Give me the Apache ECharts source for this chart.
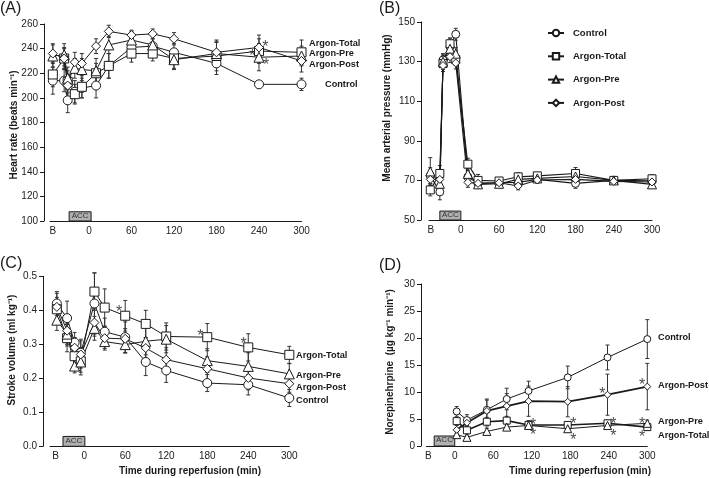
<!DOCTYPE html>
<html><head><meta charset="utf-8">
<script src="https://cdn.jsdelivr.net/npm/echarts@6/dist/echarts.min.js"></script>
<style>html,body{margin:0;padding:0;background:#fff}#c{width:709px;height:478px}</style>
</head><body><div id="c"></div>
<script>
// ---------- Panel A: Heart rate ----------
const timesA = [-51, -35, -30, -20, -10, 10, 28, 60, 90, 120, 180, 240, 300];
const hrControl = [214, 214, 198, 205, 208, 210, 226, 241, 242, 237, 228, 211, 211];
const hrTotal   = [219, 232, 213, 203, 209, 220, 226, 236, 236, 232, 234, 238, 237];
const hrPre     = [234, 235, 216, 224, 223, 222, 243, 247, 243, 231, 236, 233, 234];
const hrPost    = [236, 232, 210, 229, 228, 242, 254, 251, 252, 248, 237, 241, 230];
const hrControlErr = [11, 9, 10, 9, 8, 10, 10, 7, 6, 7, 9, 3, 5];
const hrTotalErr   = [10, 9, 9, 8, 9, 8, 10, 7, 6, 8, 12, 10, 10];
const hrPreErr     = [9, 9, 9, 8, 9, 10, 7, 7, 7, 8, 11, 11, 8];
const hrPostErr    = [8, 8, 9, 8, 8, 6, 5, 4, 4, 5, 8, 10, 9];
const hrStars = [[249, 244.8], [230.5, 237.5], [250, 230.2]];

// ---------- Panel B: Mean arterial pressure ----------
const timesB = [-48, -33, -28, -17, -8, 11, 27, 60, 90, 120, 180, 240, 300];
const mapControl = [72.4, 64.2, 130.8, 137.5, 143.8, 71.7, 68.5, 68.8, 69.0, 70.5, 68.5, 70.0, 69.8];
const mapTotal   = [65.2, 73.5, 129.0, 139.0, 131.0, 78.2, 70.0, 69.7, 71.8, 72.3, 73.5, 70.0, 70.8];
const mapPre     = [74.5, 68.3, 130.0, 136.5, 134.0, 73.3, 68.0, 68.3, 70.5, 71.0, 72.0, 70.0, 68.0];
const mapPost    = [70.5, 70.5, 128.0, 132.5, 129.3, 69.0, 68.5, 68.8, 67.2, 70.2, 70.5, 69.5, 69.2];
const mapControlErr = [4, 4, 3, 4, 3, 3, 2, 1.5, 2, 1.5, 2.5, 1.5, 1.5];
const mapTotalErr   = [3, 4, 4, 3, 3, 3, 3, 1.5, 2, 1.5, 3, 2, 2];
const mapPreErr     = [7, 5, 4, 4, 3, 3, 2, 1.5, 2, 1.5, 2.5, 1.5, 1.5];
const mapPostErr    = [3, 3, 3, 3, 3, 2.5, 2, 1.5, 2, 1.5, 2.5, 1.5, 1.5];

// ---------- Panel C: Stroke volume ----------
const timesC = [-40, -25, -14, -5, 15, 30, 60, 90, 120, 180, 240, 300];
const svControl = [0.420, 0.377, 0.305, 0.275, 0.420, 0.337, 0.321, 0.248, 0.223, 0.186, 0.181, 0.142];
const svTotal   = [0.403, 0.318, 0.265, 0.250, 0.455, 0.408, 0.384, 0.360, 0.323, 0.321, 0.291, 0.269];
const svPre     = [0.371, 0.330, 0.236, 0.248, 0.347, 0.308, 0.299, 0.309, 0.315, 0.252, 0.235, 0.213];
const svPost    = [0.410, 0.340, 0.290, 0.270, 0.364, 0.318, 0.316, 0.289, 0.255, 0.228, 0.201, 0.184];
const svControlErr = [0.035, 0.05, 0.03, 0.04, 0.09, 0.04, 0.045, 0.04, 0.035, 0.025, 0.03, 0.025];
const svTotalErr   = [0.035, 0.04, 0.035, 0.04, 0.055, 0.055, 0.045, 0.04, 0.04, 0.04, 0.04, 0.025];
const svPreErr     = [0.03, 0.03, 0.02, 0.03, 0.035, 0.02, 0.025, 0.04, 0.04, 0.035, 0.04, 0.03];
const svPostErr    = [0.04, 0.045, 0.03, 0.04, 0.04, 0.035, 0.03, 0.03, 0.035, 0.035, 0.035, 0.025];
const svStars = [[51, 0.407], [170, 0.338], [233, 0.314], [301, 0.314]];

// ---------- Panel D: Norepinephrine ----------
const timesD = [3, 19, 50, 81, 115, 176, 238, 300];
const neControl = [6.4, 4.8, 6.7, 8.7, 10.2, 12.7, 16.4, 19.8];
const neTotal   = [4.6, 2.9, 4.5, 4.7, 3.9, 3.9, 4.2, 3.5];
const nePre     = [2.1, 1.6, 2.7, 3.5, 3.8, 3.2, 3.8, 4.2];
const nePost    = [3.0, 4.3, 6.5, 7.4, 8.3, 8.2, 9.5, 11.0];
const neControlErr = [0.9, 1.0, 2.0, 2.0, 1.8, 2.1, 2.3, 3.6];
const neTotalErr   = [0.6, 0.6, 0.8, 0.8, 0.8, 0.6, 0.6, 0.6];
const nePreErr     = [0.5, 0.4, 0.6, 0.6, 0.6, 0.6, 0.6, 0.6];
const nePostErr    = [0.8, 0.8, 2.0, 2.3, 2.8, 2.8, 3.8, 4.3];
const neStars = [[230, 10.4], [292, 12.1], [122, 4.7], [122, 2.8], [185, 4.9], [185, 2.0],
                 [247, 4.9], [247, 2.7], [292, 4.9], [292, 2.4]];

// ---------- Axis / labels ----------
const xTickLabels = ['B', '0', '60', '120', '180', '240', '300'];
const seriesNames = ['Control', 'Argon-Total', 'Argon-Pre', 'Argon-Post'];
const symbols = ['circle', 'rect', 'triangle', 'diamond'];

const FONT = '"Liberation Sans", Arial, Helvetica, sans-serif';
const INK = '#1a1a1a';

const panels = [
  { times: timesA, vals: [hrControl, hrTotal, hrPre, hrPost], errs: [hrControlErr, hrTotalErr, hrPreErr, hrPostErr],
    stars: hrStars, grid: {left: 50, right: 407.5, top: 24, bottom: 257}, xmin: -55, bpos: -51,
    ymin: 100, ymax: 260, yint: 20, yoff: 6, dec: 0, sym: 9, acc: [-28, 3, 100, 107.5], lw: [1, 1, 1, 1] },
  { times: timesB, vals: [mapControl, mapTotal, mapPre, mapPost], errs: [mapControlErr, mapTotalErr, mapPreErr, mapPostErr],
    stars: [], grid: {left: 429, right: 57, top: 22, bottom: 258}, xmin: -50, bpos: -47,
    ymin: 50, ymax: 150, yint: 20, yoff: 8, dec: 0, sym: 8, acc: [-33, 0, 50, 54.5], lw: [1.1, 1.1, 1.1, 1.1] },
  { times: timesC, vals: [svControl, svTotal, svPre, svPost], errs: [svControlErr, svTotalErr, svPreErr, svPostErr],
    stars: svStars, grid: {left: 50, right: 419.7, top: 276.3, bottom: 31.7}, xmin: -50, bpos: -42,
    ymin: 0, ymax: 0.5, yint: 0.1, yoff: 7, dec: 1, sym: 9, acc: [-31, 1, 0, 0.029], lw: [1, 1, 1, 1] },
  { times: timesD, vals: [neControl, neTotal, nePre, nePost], errs: [neControlErr, neTotalErr, nePreErr, nePostErr],
    stars: neStars, grid: {left: 426.5, right: 61.7, top: 284, bottom: 32}, xmin: -44, bpos: -41,
    ymin: 0, ymax: 30, yint: 5, yoff: 5.5, dec: 0, sym: 7, acc: [-32, 0, 0, 1.85], lw: [1, 1.6, 1, 1.8] }
];

const grid = [], xAxis = [], yAxis = [], series = [];
panels.forEach((p, k) => {
  grid.push(p.grid);
  const custom = [p.bpos, 0, 60, 120, 180, 240, 300];
  xAxis.push({
    gridIndex: k, type: 'value', min: p.xmin, max: 300,
    axisLine: {show: true, onZero: false, lineStyle: {color: INK, width: 1}},
    axisTick: {show: false},
    splitLine: {show: false},
    axisLabel: {customValues: custom, formatter: v => v < 0 ? xTickLabels[0] : xTickLabels[custom.indexOf(v)],
      fontFamily: FONT, fontSize: 10, color: '#222', margin: 5}
  });
  yAxis.push({
    gridIndex: k, type: 'value', min: p.ymin, max: p.ymax, interval: p.yint, offset: p.yoff,
    axisLine: {show: true, onZero: false, lineStyle: {color: INK, width: 1}},
    axisTick: {show: true, length: 4, lineStyle: {color: INK}},
    splitLine: {show: false},
    axisLabel: {formatter: v => v.toFixed(p.dec), fontFamily: FONT, fontSize: 10, color: '#222', margin: 6}
  });
  seriesNames.forEach((nm, s) => {
    series.push({
      type: 'custom', xAxisIndex: k, yAxisIndex: k, z: 1, silent: true,
      name: 'err' + k + s,
      data: p.times.map((t, i) => [t, p.vals[s][i], p.errs[s][i]]),
      encode: {x: 0, y: 1},
      renderItem: (params, api) => {
        const x = api.value(0), y = api.value(1), e = api.value(2);
        const a = api.coord([x, y + e]), b = api.coord([x, y - e]);
        const st = {stroke: '#333', lineWidth: 1};
        return {type: 'group', children: [
          {type: 'line', shape: {x1: a[0], y1: a[1], x2: b[0], y2: b[1]}, style: st},
          {type: 'line', shape: {x1: a[0] - 2, y1: a[1], x2: a[0] + 2, y2: a[1]}, style: st},
          {type: 'line', shape: {x1: b[0] - 2, y1: b[1], x2: b[0] + 2, y2: b[1]}, style: st}
        ]};
      }
    });
  });
  seriesNames.forEach((nm, s) => {
    const ser = {
      type: 'line', name: k === 1 ? nm : 'p' + k + ' ' + nm, xAxisIndex: k, yAxisIndex: k, z: 3,
      data: p.times.map((t, i) => [t, p.vals[s][i]]),
      symbol: symbols[s], symbolSize: s === 2 ? p.sym + 1 : p.sym, showSymbol: true,
      lineStyle: {color: INK, width: p.lw[s]},
      itemStyle: {color: '#fff', borderColor: INK, borderWidth: 1},
      emphasis: {disabled: true}, silent: true
    };
    if (s === 0) {
      ser.markArea = {
        silent: true,
        itemStyle: {color: '#b0b0b0', borderColor: INK, borderWidth: 1},
        label: {show: true, position: 'inside', fontFamily: FONT, fontSize: 8, color: '#333', offset: [0, -1]},
        data: [[{name: 'ACC', xAxis: p.acc[0], yAxis: p.acc[2]}, {xAxis: p.acc[1], yAxis: p.acc[3]}]]
      };
    }
    series.push(ser);
  });
  if (p.stars.length) {
    series.push({
      type: 'scatter', xAxisIndex: k, yAxisIndex: k, z: 5, silent: true, name: 'stars' + k,
      data: p.stars, symbolSize: 1, itemStyle: {color: 'rgba(0,0,0,0)'},
      label: {show: true, formatter: '*', position: 'inside', fontFamily: FONT, fontSize: 16, color: INK, offset: [0, 5]}
    });
  }
});

function txt(x, y, text, o) {
  return Object.assign({type: 'text', x: x, y: y, silent: true,
    style: Object.assign({text: text, fontFamily: FONT, fontSize: 10, fontWeight: 'bold', fill: '#1a1a1a',
      textAlign: 'left', textVerticalAlign: 'middle'}, o && o.style || {})}, o && o.el || {});
}
const vt = (x, y, text) => txt(x, y, text, {el: {rotation: Math.PI / 2}, style: {textAlign: 'center'}});
const panelLabel = (x, y, text) => txt(x, y, text, {style: {fontSize: 16, fontWeight: 'normal', textVerticalAlign: 'top'}});
const sl = (x, y, text) => txt(x, y, text, {style: {fontSize: 9.2}});

const graphic = [
  panelLabel(0, 1, '(A)'), panelLabel(379, 1, '(B)'), panelLabel(0, 256, '(C)'), panelLabel(379, 258, '(D)'),
  vt(14, 125, 'Heart rate (beats min\u207B\u00B9)'),
  vt(387, 108, 'Mean arterial pressure (mmHg)'),
  vt(12, 350, 'Stroke volume (ml kg\u207B\u00B9)'),
  vt(390, 362, 'Norepinehrpine  (\u00B5g kg\u207B\u00B9 min\u207B\u00B9)'),
  txt(190, 471, 'Time during reperfusion (min)', {style: {textAlign: 'center'}}),
  txt(580, 471, 'Time during reperfusion (min)', {style: {textAlign: 'center'}}),
  sl(309, 43, 'Argon-Total'), sl(309, 53, 'Argon-Pre'), sl(309, 64, 'Argon-Post'), sl(325, 84, 'Control'),
  sl(296, 355, 'Argon-Total'), sl(296, 375, 'Argon-Pre'), sl(296, 387, 'Argon-Post'), sl(296, 400, 'Control'),
  sl(658, 337, 'Control'), sl(658, 385, 'Argon-Post'), sl(658, 421, 'Argon-Pre'), sl(658, 435, 'Argon-Total')
];

const chart = echarts.init(document.getElementById('c'), null, {renderer: 'canvas'});
chart.setOption({
  animation: false,
  backgroundColor: '#fff',
  grid: grid, xAxis: xAxis, yAxis: yAxis, series: series, graphic: graphic,
  legend: {
    show: true, data: seriesNames, orient: 'vertical', left: 547, top: 27, padding: 0,
    itemWidth: 16, itemHeight: 8, itemGap: 11.3, selectedMode: false,
    textStyle: {fontFamily: FONT, fontSize: 9.5, fontWeight: 'bold', color: '#1a1a1a', lineHeight: 12, padding: [0, 0, 0, 4]}
  }
});
</script></body></html>
